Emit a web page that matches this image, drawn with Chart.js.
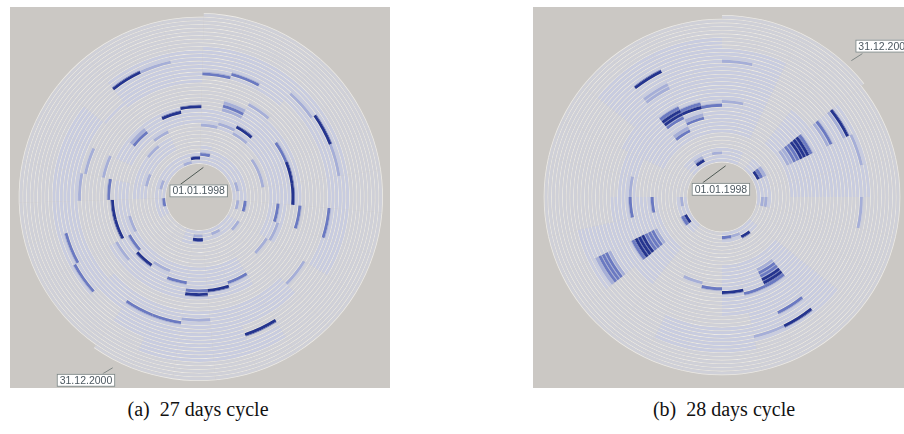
<!DOCTYPE html>
<html><head><meta charset="utf-8">
<script src="https://cdn.jsdelivr.net/npm/chart.js@4/dist/chart.umd.min.js"></script>
<style>
html,body{margin:0;padding:0;background:#fff;width:904px;height:434px;overflow:hidden;position:relative;}
.panel{position:absolute;width:380px;height:381px;}
#wrapA{left:10px;top:7px;}
#wrapB{left:533px;top:7px;}
.cap{position:absolute;top:398px;font-family:"Liberation Serif","DejaVu Serif",serif;font-size:20px;color:#111;white-space:nowrap;transform:translateX(-50%);}
</style></head><body>
<div class="panel" id="wrapA"><canvas id="cA" width="380" height="381"></canvas></div>
<div class="panel" id="wrapB"><canvas id="cB" width="380" height="381"></canvas></div>
<div class="cap" style="left:198px">(a)&nbsp; 27 days cycle</div>
<div class="cap" style="left:724px">(b)&nbsp; 28 days cycle</div>
<script>
// ---- data ----
const totalDays = 1096;               // 01.01.1998 .. 31.12.2000
const cycleA = 27, cycleB = 28;
const startLabel = "01.01.1998", endLabel = "31.12.2000";
const levelColors = ["#cfd0d8", "#c8cce0", "#a5aed8", "#6a79c2", "#24348f"];
const edgeColors  = [null, null, "#ccd1e6", "#a6afd9", "#6673b8"];

// pale (level 1) zones: [ringFrom, ringTo, cellFrom, cellTo]
const paleA = [
  [0,3,0,6],[0,2,9,14],[0,2,18,26],[5,8,20,24],
  [10,14,0,8],[15,18,2,6],[10,13,11,20],[14,18,11,17],[11,15,22,26],
  [22,30,24,26],[24,31,0,2],[26,31,3,8],[22,27,10,16],[28,31,12,15],[24,30,17,22],[32,35,11,14]
];
// marks: [ring, cell, length, level]
const marksA = [
  [28,24,1,4],[28,25,1,2],[29,25,1,1],[29,26,1,1],[30,0,1,1],
  [24,0,1,3],[25,1,1,3],[25,0,1,1],[28,3,1,2],[29,4,1,4],[29,5,1,2],[30,6,1,1],
  [15,26,1,4],[17,1,1,2],[16,1,1,3],[15,1,1,2],[14,25,1,4],[13,23,1,3],[14,23,1,2],
  [10,24,1,2],[10,0,1,2],[11,1,1,2],[12,2,1,4],[10,2,1,2],[16,4,1,3],[16,5,2,4],
  [1,26,1,4],[2,0,1,3],[0,25,1,2],[1,21,1,2],[0,19,1,3],[1,5,1,2],[3,7,1,3],[1,7,1,2],
  [3,9,1,2],[2,13,1,4],[1,13,1,2],[3,14,1,1],[1,11,1,2],
  [15,20,1,3],[14,18,2,4],[17,21,1,2],[22,21,1,2],[23,20,1,2],[5,21,1,2],
  [12,17,1,3],[16,17,1,2],[13,16,1,4],[12,15,1,2],[14,14,1,3],[17,13,1,4],[16,13,1,3],
  [16,12,1,4],[15,11,1,3],[13,8,1,2],[12,7,1,3],[18,7,1,3],[26,7,1,3],[24,9,1,2],
  [30,11,1,4],[28,18,1,3],[29,17,1,3],[25,15,1,3],[25,14,1,3],[24,13,1,2],
  [19,2,1,2],[23,23,1,1],[8,5,1,2],[8,4,1,2],[4,0,1,1],[8,23,1,2],[8,21,1,1],
  [12,9,1,2],[10,18,1,2]
];

const paleB = [
  [8,20,23,27],[21,33,24,27],[8,30,0,1],[9,20,3,6],[21,30,4,6],
  [9,22,10,13],[23,30,10,12],[8,20,17,20],[21,30,18,19],[26,32,13,15],
  [0,3,24,27],[0,3,0,1],[0,2,10,13],[0,2,17,20],[0,3,3,7],[14,18,20,22]
];
const marksB = [
  [28,25,1,4],[23,25,1,2],[24,25,1,2],[27,0,1,2],[26,26,1,1],[27,27,1,1],
  [14,25,1,3],[15,25,1,4],[16,25,1,4],[17,25,1,3],[15,26,1,4],[16,26,1,3],
  [15,27,1,3],[16,0,1,2],[12,26,1,3],[13,26,1,2],[10,25,1,3],[11,25,1,2],
  [1,25,1,4],[2,25,1,2],[2,27,1,2],[2,0,1,1],
  [1,4,1,4],[2,4,1,3],[3,4,1,2],[1,7,1,2],[2,7,1,2],
  [10,4,1,2],[11,4,1,2],[12,4,1,3],[13,4,1,3],[14,4,1,4],[15,4,1,4],[16,4,1,4],[17,4,1,3],
  [22,4,1,2],[23,4,1,3],[28,4,1,4],[27,4,1,2],[29,5,1,2],[28,7,1,2],
  [12,11,1,2],[13,11,1,3],[14,11,1,3],[15,11,1,4],[16,11,1,4],[17,11,1,3],
  [2,11,1,4],[1,13,1,3],[1,12,1,2],[17,12,1,3],[16,13,1,4],[15,14,1,3],[14,15,1,2],
  [25,11,1,3],[29,11,1,4],[29,12,1,2],
  [13,18,1,3],[14,18,1,4],[15,18,1,4],[16,18,1,4],[17,18,1,3],
  [10,18,1,2],[11,18,1,3],[12,18,1,3],
  [24,18,1,2],[25,18,1,3],[26,18,1,3],[27,18,1,3],[28,18,1,2],
  [1,18,1,4],[2,18,1,3],[15,20,1,3],[15,21,1,2],[9,20,1,3],[1,20,1,2]
];

// ---- build grids ----
function buildGrid(cycle, pale, marks){
  const rings = Math.ceil(totalDays / cycle);
  const grid = [];
  for (let r = 0; r < rings; r++){
    const row = [];
    for (let c = 0; c < cycle; c++) row.push(r * cycle + c < totalDays ? 0 : -1);
    grid.push(row);
  }
  pale.forEach(([r0, r1, c0, c1]) => {
    for (let r = r0; r <= r1; r++) for (let c = c0; c <= c1; c++)
      if (grid[r] && grid[r][c] >= 0) grid[r][c] = Math.max(grid[r][c], 1);
  });
  marks.forEach(([r, c, len, lv]) => {
    for (let k = 0; k < len; k++){
      const cc = (c + k) % cycle;
      if (grid[r] && grid[r][cc] >= 0) grid[r][cc] = lv;
    }
  });
  return grid;
}

const SEP = "#edebe7", PANEL = "#cbc8c4", NONE = "rgba(0,0,0,0)";

function datasetsFor(grid, cycle){
  const ds = [];
  const ones = new Array(cycle).fill(1);
  const base = { data: ones, borderWidth: 0, hoverOffset: 0, offset: 0 };
  for (let r = grid.length - 1; r >= 0; r--){
    // separator outside ring r (tinted where a strong mark sits below it)
    ds.push(Object.assign({}, base, { weight: 0.8,
      backgroundColor: grid[r].map(v => v < 0 ? NONE : (edgeColors[v] || SEP)) }));
    ds.push(Object.assign({}, base, { weight: 2.85,
      backgroundColor: grid[r].map(v => v >= 0 ? levelColors[v] : NONE) }));
  }
  ds.push(Object.assign({}, base, { weight: 0.8, backgroundColor: grid[0].map(() => SEP) }));
  return ds;
}

const panelBg = {
  id: "panelBg",
  beforeDraw(chart){
    const ctx = chart.ctx;
    ctx.save(); ctx.fillStyle = PANEL; ctx.fillRect(0, 0, chart.width, chart.height); ctx.restore();
  }
};

function drawBox(ctx, text, x, y){
  ctx.font = "10.5px 'Liberation Sans', Arial, sans-serif";
  const w = ctx.measureText(text).width + 6, h = 13;
  ctx.fillStyle = "#ffffff"; ctx.fillRect(x, y, w, h);
  ctx.strokeStyle = "#7f8786"; ctx.lineWidth = 1; ctx.strokeRect(x + 0.5, y + 0.5, w - 1, h - 1);
  ctx.fillStyle = "#4c5860"; ctx.textBaseline = "middle"; ctx.textAlign = "left";
  ctx.fillText(text, x + 3, y + h / 2 + 0.5);
}

function labelPlugin(grid, endSide){
  return {
    id: "dateLabels",
    afterDraw(chart){
      const ctx = chart.ctx;
      const n = chart.data.datasets.length;
      const firstMeta = chart.getDatasetMeta(n - 2).data;   // innermost ring
      const outerMeta = chart.getDatasetMeta(1).data;       // outermost ring
      if (!firstMeta || !firstMeta.length || !outerMeta || !outerMeta.length) return;
      const first = firstMeta[0];
      const lastRow = grid[grid.length - 1];
      let lastIdx = 0; lastRow.forEach((v, i) => { if (v >= 0) lastIdx = i; });
      const last = outerMeta[lastIdx];
      ctx.save();
      let a = (first.startAngle + first.endAngle) / 2, rr = first.innerRadius - 3;
      let ax = first.x + Math.cos(a) * rr, ay = first.y + Math.sin(a) * rr;
      ctx.strokeStyle = "#4f5a55"; ctx.lineWidth = 1;
      ctx.beginPath(); ctx.moveTo(ax, ay + 1); ctx.lineTo(ax - 23, ay + 18); ctx.stroke();
      drawBox(ctx, startLabel, ax - 34, ay + 18);
      a = (last.startAngle + last.endAngle) / 2; rr = last.outerRadius + 6;
      ax = last.x + Math.cos(a) * rr; ay = last.y + Math.sin(a) * rr;
      ctx.beginPath();
      if (endSide === "left"){
        ctx.moveTo(ax + 3, ay + 4); ctx.lineTo(ax - 7, ay + 10); ctx.stroke();
        drawBox(ctx, endLabel, ax - 53, ay + 10);
      } else {
        ctx.moveTo(ax - 3, ay - 4); ctx.lineTo(ax + 8, ay - 11); ctx.stroke();
        drawBox(ctx, endLabel, ax + 1, ay - 25);
      }
      ctx.restore();
    }
  };
}

function makeChart(id, cycle, pale, marks, rotation, cutout, padding, endSide){
  const grid = buildGrid(cycle, pale, marks);
  return new Chart(document.getElementById(id), {
    type: "doughnut",
    data: { labels: Array.from({length: cycle}, (_, i) => "day " + (i + 1)), datasets: datasetsFor(grid, cycle) },
    options: {
      responsive: false, animation: false, events: [],
      rotation: rotation, cutout: cutout, spacing: 0,
      layout: { padding: padding },
      plugins: { legend: { display: false }, tooltip: { enabled: false } }
    },
    plugins: [panelBg, labelPlugin(grid, endSide)]
  });
}

makeChart("cA", cycleA, paleA, marksA, 1.5, "18%", {left: 5, right: 7, top: 6, bottom: 7}, "left");
makeChart("cB", cycleB, paleB, marksB, 0, "19%", {left: 7, right: 9, top: 8, bottom: 9}, "right");
</script>
</body></html>
